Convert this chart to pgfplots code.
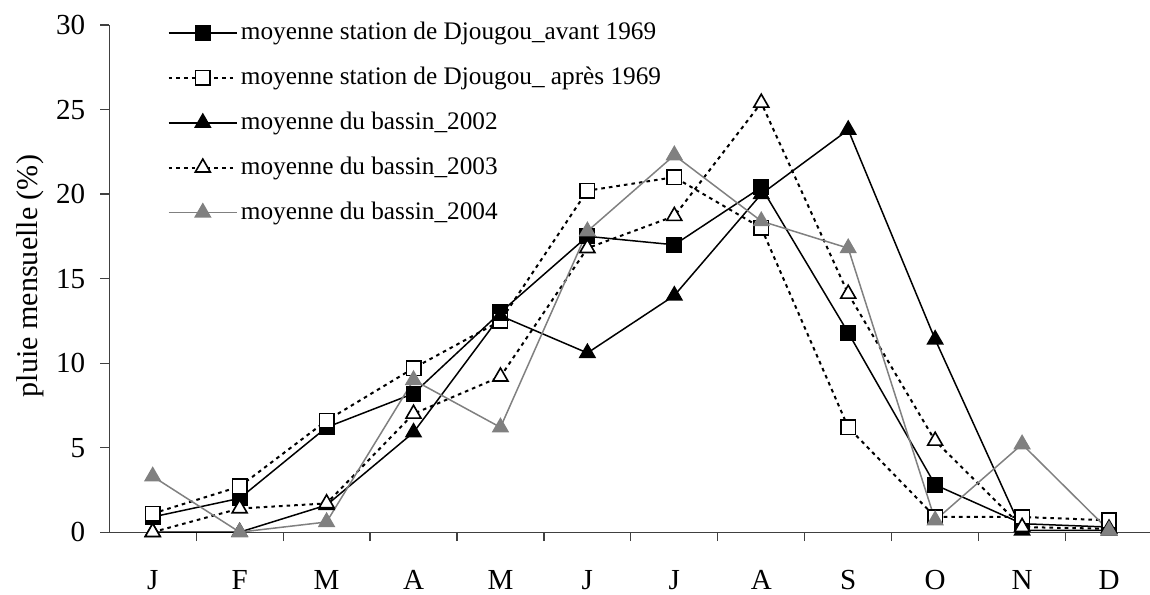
\documentclass[border=0pt]{standalone}
\usepackage{fontspec}
\setmainfont{Liberation Serif}
\usepackage{pgfplots}
\pgfplotsset{compat=1.18}
\definecolor{grayS}{HTML}{808080}
\begin{document}
\begin{tikzpicture}
\begin{axis}[
  scale only axis, width=520.5pt, height=253pt,
  xmin=-0.5, xmax=11.5, ymin=0, ymax=30,
  clip=false,
  axis lines=left,
  axis line style={-, line width=0.6pt, color=black!75},
  tick align=outside,
  xtick={0,...,11},
  xticklabels={J,F,M,A,M,J,J,A,S,O,N,D},
  minor xtick={0.5,1.5,...,10.5},
  major x tick style={draw=none},
  minor x tick style={line width=0.6pt, color=black!75},
  minor tick length=4.5pt,
  major tick length=4.5pt,
  y tick style={line width=0.6pt, color=black!75},
  ytick={0,5,...,30},
  /pgf/number format/assume math mode=true,
  tick label style={font=\fontsize{14.5}{16}\selectfont},
  xticklabel style={yshift=-11pt},
  yticklabel style={xshift=-4pt},
  ylabel={pluie mensuelle (\%)},
  ylabel style={font=\fontsize{15}{17}\selectfont, at={(axis description cs:-0.076,0.505)}, anchor=center, rotate=0},
  legend style={draw=none, fill=none, at={(axis description cs:0.0557,1.0138)}, anchor=north west,
    font=\fontsize{12.6}{14}\selectfont, row sep=7.9pt, inner sep=0pt,
    nodes={inner sep=1.5pt, text height=9pt, text depth=2.5pt}},
  legend cell align=left,
  legend image code/.code={\draw[mark repeat=2,mark phase=2,#1] plot coordinates {(0pt,0pt) (17pt,0pt) (34pt,0pt)};},
]
\addplot[black, line width=0.75pt, mark=square*, mark size=3.6pt, mark options={solid, fill=black}]
 coordinates {(0,0.9) (1,2.0) (2,6.2) (3,8.2) (4,13.0) (5,17.5) (6,17.0) (7,20.4) (8,11.8) (9,2.8) (10,0.5) (11,0.3)};
\addlegendentry{moyenne station de Djougou\_avant 1969}
\addplot[black, line width=1pt, dash pattern=on 1.8pt off 2pt, mark=square*, mark size=3.6pt, mark options={solid, fill=white, line width=0.8pt}]
 coordinates {(0,1.1) (1,2.7) (2,6.6) (3,9.7) (4,12.5) (5,20.2) (6,21.0) (7,18.0) (8,6.2) (9,0.9) (10,0.9) (11,0.7)};
\addlegendentry{moyenne station de Djougou\_ après 1969}
\addplot[black, line width=0.75pt, mark=triangle*, mark size=4.3pt, mark options={solid, fill=black}]
 coordinates {(0,0) (1,0) (2,1.6) (3,5.9) (4,12.8) (5,10.6) (6,14.0) (7,20.0) (8,23.8) (9,11.4) (10,0.1) (11,0.1)};
\addlegendentry{moyenne du bassin\_2002}
\addplot[black, line width=1pt, dash pattern=on 1.8pt off 2pt, mark=triangle*, mark size=4.3pt, mark options={solid, fill=white, line width=0.8pt}]
 coordinates {(0,0) (1,1.4) (2,1.7) (3,7.0) (4,9.2) (5,16.8) (6,18.7) (7,25.4) (8,14.1) (9,5.4) (10,0.3) (11,0.2)};
\addlegendentry{moyenne du bassin\_2003}
\addplot[grayS, line width=0.75pt, mark=triangle*, mark size=4.3pt, mark options={solid, fill=grayS, draw=grayS}]
 coordinates {(0,3.3) (1,0) (2,0.6) (3,9.0) (4,6.2) (5,17.8) (6,22.3) (7,18.4) (8,16.8) (9,0.7) (10,5.2) (11,0.1)};
\addlegendentry{moyenne du bassin\_2004}
\coordinate (sw) at (rel axis cs:0,0);
\coordinate (ne) at (rel axis cs:1,1);
\end{axis}
\pgfresetboundingbox
\path ([shift={(-54.5pt,-31pt)}]sw) rectangle ([shift={(-1.25pt,12.5pt)}]ne);
\end{tikzpicture}
\end{document}
